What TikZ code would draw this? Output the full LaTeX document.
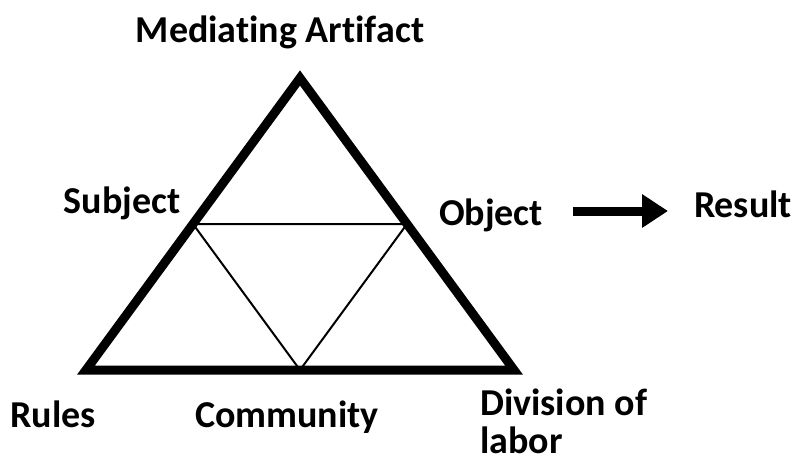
\documentclass[tikz,border=0pt]{standalone}
\usepackage{fontspec}
\setmainfont{Carlito}[Ligatures=NoCommon]
\usetikzlibrary{calc,arrows.meta}

\begin{document}
\begin{tikzpicture}[x=1pt,y=-1pt,
        word/.style={font=\fontsize{38}{38}\selectfont\bfseries, inner sep=0pt, anchor=base}]
            \useasboundingbox (0,0) rectangle (799,464);

            % Corners of the outer triangle
            \coordinate (A) at (300,78);
            \coordinate (B) at (86,370);
            \coordinate (C) at (514,370);

            % Midpoints of the sides
            \coordinate (AB) at ($(A)!0.5!(B)$);
            \coordinate (AC) at ($(A)!0.5!(C)$);
            \coordinate (BC) at ($(B)!0.5!(C)$);

            % Draw the outer triangle
            \draw[line width=9pt, line join=miter] (A) -- (B) -- (C) -- cycle;

            % Draw the inner triangle
            \draw[line width=2pt] (AB) -- (AC) -- (BC) -- cycle;

            % Label the corners
            \node[word] (artifact) at (280,42) {Mediating Artifact};
            \node[word] (subject) at (122,213) {Subject};
            \node[word] (object) at (491,225) {Object};
            \node[word] (result) at (743,217) {Result};
            \node[word] (rules) at (53,427) {Rules};
            \node[word] (community) at (287,427) {Community};
            \node[word, anchor=north west, align=left] (division) at (480,389) {Division of\\labor};

            % Arrow from object to result
            \coordinate (P) at (573,211);
            \coordinate (Q) at (668,211);
            \draw[line width=9pt, -{Triangle[length=26pt,width=32pt]}] (P) -- (Q);
        \end{tikzpicture}
\end{document}
